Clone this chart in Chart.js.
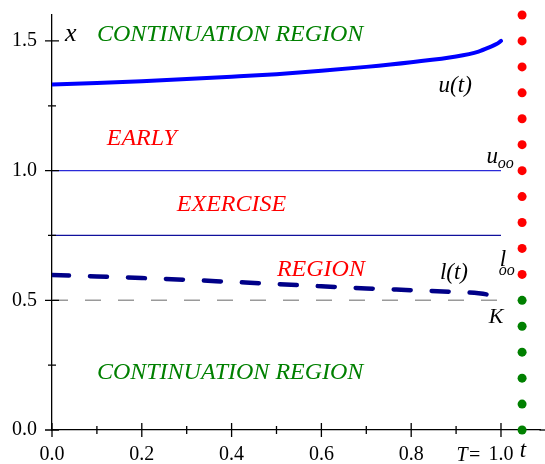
<!DOCTYPE html>
<html>
<head>
<meta charset="utf-8">
<script src="https://cdn.jsdelivr.net/npm/chart.js@4"></script>
<style>
  body { margin: 0; background: #fff; }
  canvas { display: block; }
</style>
</head>
<body>
<canvas id="boundaryChart" width="545" height="464"></canvas>
<script>
// time grid and the two free boundaries
const tValues = [0, 0.1, 0.2, 0.3, 0.4, 0.5, 0.6, 0.7, 0.8, 0.9, 0.95, 0.975, 0.99, 1.0];
const upperBoundary = [1.332, 1.338, 1.345, 1.353, 1.362, 1.372, 1.385, 1.400, 1.418, 1.440, 1.459, 1.476, 1.488, 1.500];
const lowerBoundary = [0.598, 0.592, 0.586, 0.579, 0.571, 0.563, 0.554, 0.546, 0.539, 0.532, 0.527, 0.520, 0.511, 0.500];

// constant levels
const uInf = 1.0;
const lInf = 0.75;
const strikeK = 0.5;
const maturity = 1.0;

// dots at t > T
const dotT = 1.047;
const redDots = [0.6, 0.7, 0.8, 0.9, 1.0, 1.1, 1.2, 1.3, 1.4, 1.5, 1.6];
const greenDots = [0.0, 0.1, 0.2, 0.3, 0.4, 0.5];

// ticks
const xMajorTicks = [0, 0.2, 0.4, 0.6, 0.8, 1.0];
const xMinorTicks = [0.1, 0.3, 0.5, 0.7, 0.9];
const yMajorTicks = [0, 0.5, 1.0, 1.5];
const yMinorTicks = [0.25, 0.75, 1.25];

const SERIF = '"Liberation Serif", "Times New Roman", serif';

const pts = (xs, ys) => xs.map((x, i) => ({ x: x, y: ys[i] }));
const flat = (v) => [{ x: 0, y: v }, { x: maturity, y: v }];

// text labels, positioned in data units
const labels = [
  { text: 'x', t: 0.029, v: 1.498, size: 26, color: '#000' },
  { text: 'CONTINUATION REGION', t: 0.100, v: 1.498, size: 24, color: '#008000' },
  { text: 'EARLY', t: 0.122, v: 1.097, size: 24, color: '#ff0000' },
  { text: 'EXERCISE', t: 0.278, v: 0.846, size: 24, color: '#ff0000' },
  { text: 'REGION', t: 0.501, v: 0.595, size: 24, color: '#ff0000' },
  { text: 'CONTINUATION REGION', t: 0.100, v: 0.197, size: 24, color: '#008000' },
  { text: 'u(t)', t: 0.861, v: 1.303, size: 23, color: '#000' },
  { text: 'l(t)', t: 0.864, v: 0.583, size: 23, color: '#000' },
  { text: 'u', t: 0.968, v: 1.031, size: 23, color: '#000' },
  { text: 'oo', t: 0.993, v: 1.012, size: 16, color: '#000' },
  { text: 'l', t: 0.997, v: 0.633, size: 23, color: '#000' },
  { text: 'oo', t: 0.995, v: 0.599, size: 16, color: '#000' },
  { text: 'K', t: 0.973, v: 0.413, size: 22, color: '#000' },
  { text: 't', t: 1.042, v: -0.104, size: 23, color: '#000' },
  { text: 'T=', t: 0.901, v: -0.120, size: 20, color: '#000' }
];

const textPlugin = {
  id: 'textLabels',
  afterDraw(chart) {
    const { ctx, scales: { x, y } } = chart;
    ctx.save();
    ctx.textAlign = 'left';
    ctx.textBaseline = 'alphabetic';
    labels.forEach(l => {
      ctx.font = 'italic ' + l.size + 'px ' + SERIF;
      ctx.fillStyle = l.color;
      ctx.fillText(l.text, x.getPixelForValue(l.t), y.getPixelForValue(l.v));
    });
    ctx.restore();
  }
};

// tick marks crossing the axes, and the axis run out to the canvas edge
const tickPlugin = {
  id: 'crossTicks',
  beforeDatasetsDraw(chart) {
    const { ctx, scales: { x, y } } = chart;
    const y0 = y.getPixelForValue(0);
    ctx.save();
    ctx.strokeStyle = '#000';
    ctx.lineWidth = 1.3;
    ctx.beginPath();
    ctx.moveTo(chart.chartArea.right - 1, y0);
    ctx.lineTo(chart.width, y0);
    ctx.stroke();
    ctx.restore();
  },
  afterDatasetsDraw(chart) {
    const { ctx, scales: { x, y } } = chart;
    const x0 = x.getPixelForValue(0), y0 = y.getPixelForValue(0);
    ctx.save();
    ctx.strokeStyle = '#000';
    ctx.lineWidth = 1.3;
    ctx.beginPath();
    xMajorTicks.forEach(v => { const p = x.getPixelForValue(v); ctx.moveTo(p, y0 - 7); ctx.lineTo(p, y0 + 7); });
    xMinorTicks.forEach(v => { const p = x.getPixelForValue(v); ctx.moveTo(p, y0 - 4); ctx.lineTo(p, y0 + 4); });
    yMajorTicks.forEach(v => { const p = y.getPixelForValue(v); ctx.moveTo(x0 - 7, p); ctx.lineTo(x0 + 7, p); });
    yMinorTicks.forEach(v => { const p = y.getPixelForValue(v); ctx.moveTo(x0 - 4, p); ctx.lineTo(x0 + 4, p); });
    ctx.stroke();
    ctx.restore();
  }
};

const ctx = document.getElementById('boundaryChart').getContext('2d');
const chart = new Chart(ctx, {
  type: 'scatter',
  data: {
    datasets: [
      { // K
        data: flat(strikeK), showLine: true, borderColor: '#9a9a9a', borderWidth: 1.5,
        borderDash: [16, 17], pointRadius: 0
      },
      { // u infinity
        data: flat(uInf), showLine: true, borderColor: '#2a2ad8', borderWidth: 1.3, pointRadius: 0
      },
      { // l infinity
        data: flat(lInf), showLine: true, borderColor: '#10109c', borderWidth: 1.3, pointRadius: 0
      },
      { // u(t)
        data: pts(tValues, upperBoundary), showLine: true, borderColor: '#0000ff', borderWidth: 4,
        borderCapStyle: 'round', cubicInterpolationMode: 'monotone', pointRadius: 0
      },
      { // l(t)
        data: pts(tValues, lowerBoundary), showLine: true, borderColor: '#000088', borderWidth: 4.5,
        borderCapStyle: 'round', borderDash: [17, 21], cubicInterpolationMode: 'monotone', pointRadius: 0
      },
      {
        data: redDots.map(v => ({ x: dotT, y: v })), pointRadius: 4.5,
        pointBackgroundColor: '#ff0000', pointBorderWidth: 0, clip: false
      },
      {
        data: greenDots.map(v => ({ x: dotT, y: v })), pointRadius: 4.5,
        pointBackgroundColor: '#008000', pointBorderWidth: 0, clip: false
      }
    ]
  },
  options: {
    responsive: false,
    animation: false,
    events: [],
    layout: { padding: { top: 15, right: 0, left: 0, bottom: 0 } },
    plugins: { legend: { display: false }, tooltip: { enabled: false } },
    scales: {
      x: {
        type: 'linear', min: 0, max: 1.088,
        afterBuildTicks: s => { s.ticks = xMajorTicks.map(v => ({ value: v })); },
        afterFit: s => { s.height = 34; s.paddingLeft = 0; s.paddingRight = 0; },
        grid: { display: false, drawTicks: false },
        border: { display: true, color: '#000', width: 1.3 },
        ticks: {
          padding: 13, color: '#000', maxRotation: 0, autoSkip: false,
          font: { family: SERIF, size: 20 },
          callback: v => v.toFixed(1)
        }
      },
      y: {
        type: 'linear', min: 0, max: 1.6,
        afterBuildTicks: s => { s.ticks = yMajorTicks.map(v => ({ value: v })); },
        afterFit: s => { s.width = 52; s.paddingTop = 0; s.paddingBottom = 0; },
        grid: { display: false, drawTicks: false },
        border: { display: true, color: '#000', width: 1.3 },
        ticks: {
          padding: 15, color: '#000',
          font: { family: SERIF, size: 20 },
          callback: v => v.toFixed(1)
        }
      }
    }
  },
  plugins: [tickPlugin, textPlugin]
});
</script>
</body>
</html>
